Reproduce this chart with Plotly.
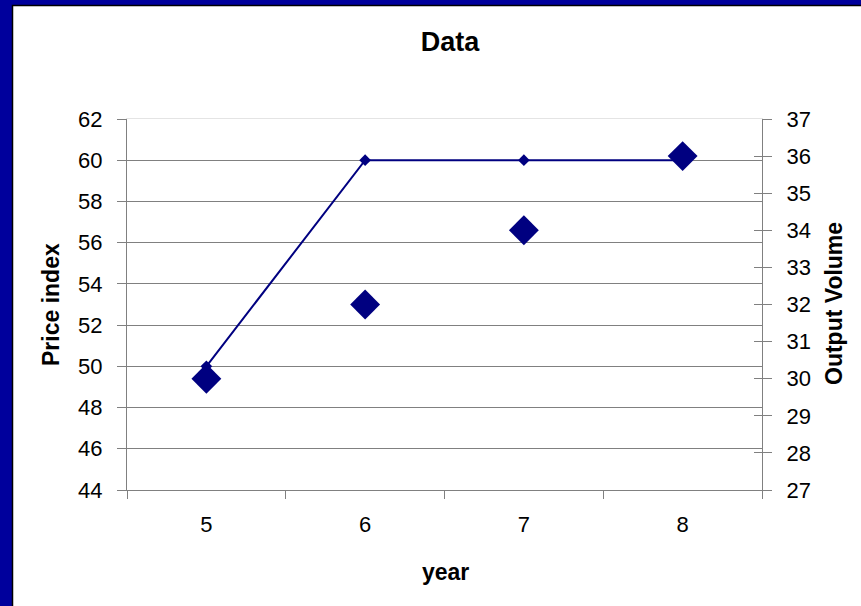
import plotly.graph_objects as go

# Chart data
years = ["5", "6", "7", "8"]
price_index = [50, 60, 60, 60]
output_volume = [30, 32, 34, 36]

price_ticks = list(range(44, 63, 2))
volume_ticks = list(range(27, 38, 1))

NAVY = "#000080"
AXIS_GRAY = "#808080"
FONT = "Arial, Liberation Sans, sans-serif"

# plot-area geometry in pixels (used to place the free-standing titles)
L, R, T, B = 127, 762, 119, 490


def px_x(px):
    return (px - L) / (R - L)


def px_y(py):
    return (B - py) / (B - T)


fig = go.Figure()

# helper traces so the extra axes are rendered (grid / tick halves)
fig.add_trace(go.Scatter(x=[], y=[], xaxis="x2", yaxis="y3", showlegend=False, hoverinfo="skip"))
fig.add_trace(go.Scatter(x=[], y=[], xaxis="x", yaxis="y4", showlegend=False, hoverinfo="skip"))

fig.add_trace(go.Scatter(
    x=years, y=price_index, name="Price index",
    mode="lines+markers",
    line=dict(color=NAVY, width=2),
    marker=dict(symbol="diamond", size=9, color=NAVY),
    xaxis="x", yaxis="y",
))

fig.add_trace(go.Scatter(
    x=years, y=output_volume, name="Output Volume",
    mode="markers",
    marker=dict(symbol="diamond", size=23, color=NAVY),
    xaxis="x", yaxis="y2",
))

# frame: dark blue outer band with a white inner panel
fig.add_shape(type="rect", xref="paper", yref="paper",
              x0=px_x(12.5), x1=1.3, y0=-0.5, y1=px_y(5.5),
              fillcolor="white", line=dict(color="black", width=1.5),
              layer="below")

title_font = dict(family=FONT, size=23, color="black")
annotations = [
    dict(text="<b>year</b>", x=px_x(445), y=px_y(572),
         xref="paper", yref="paper", showarrow=False,
         xanchor="center", yanchor="middle", font=title_font),
    dict(text="<b>Price index</b>", x=px_x(51), y=px_y(305),
         xref="paper", yref="paper", showarrow=False, textangle=-90,
         xanchor="center", yanchor="middle", font=title_font),
    dict(text="<b>Output Volume</b>", x=px_x(834), y=px_y(304),
         xref="paper", yref="paper", showarrow=False, textangle=-90,
         xanchor="center", yanchor="middle", font=title_font),
]

fig.update_layout(
    width=861, height=606,
    margin=dict(l=L, r=861 - R, t=T, b=606 - B),
    paper_bgcolor="#00009C",
    plot_bgcolor="rgba(0,0,0,0)",
    showlegend=False,
    font=dict(family=FONT, size=22, color="black"),
    title=dict(text="<b>Data</b>", x=450 / 861, y=1 - 42 / 606,
               xanchor="center", yanchor="middle",
               font=dict(size=27, family=FONT, color="black")),
    annotations=annotations,
    xaxis=dict(
        type="category", range=[-0.5, 3.5],
        tickson="boundaries", ticks="outside", ticklen=8,
        tickcolor=AXIS_GRAY, showline=True, linecolor=AXIS_GRAY, linewidth=1,
        showgrid=False, zeroline=False, ticklabelstandoff=15,
        tickfont=dict(size=22),
    ),
    xaxis2=dict(
        overlaying="x", side="top", type="category", range=[-0.5, 3.5],
        showline=True, linecolor="#e4e4e4", linewidth=1,
        showticklabels=False, ticks="", showgrid=False, zeroline=False,
    ),
    yaxis=dict(
        range=[44, 62], tickvals=price_ticks,
        ticks="outside", ticklen=9, tickcolor=AXIS_GRAY,
        showline=True, linecolor=AXIS_GRAY, linewidth=1,
        showgrid=False, zeroline=False, ticklabelstandoff=10,
        tickfont=dict(size=22),
    ),
    yaxis2=dict(
        overlaying="y", side="right", range=[27, 37], tickvals=volume_ticks,
        ticks="outside", ticklen=9, tickcolor=AXIS_GRAY,
        showline=True, linecolor=AXIS_GRAY, linewidth=1,
        showgrid=False, zeroline=False, ticklabelstandoff=10,
        tickfont=dict(size=22),
    ),
    # inner halves of the crossing tick marks on the right axis
    yaxis3=dict(
        overlaying="y", side="right", range=[27, 37], tickvals=volume_ticks,
        ticks="inside", ticklen=8, tickcolor=AXIS_GRAY,
        showticklabels=False, showline=False, showgrid=False, zeroline=False,
    ),
    # horizontal grid lines of the price scale
    yaxis4=dict(
        overlaying="y", side="left", range=[44, 62], tickvals=price_ticks[1:-1],
        showgrid=True, gridcolor=AXIS_GRAY, gridwidth=1,
        showticklabels=False, ticks="", showline=False, zeroline=False,
    ),
)

fig.write_html("out.html")
